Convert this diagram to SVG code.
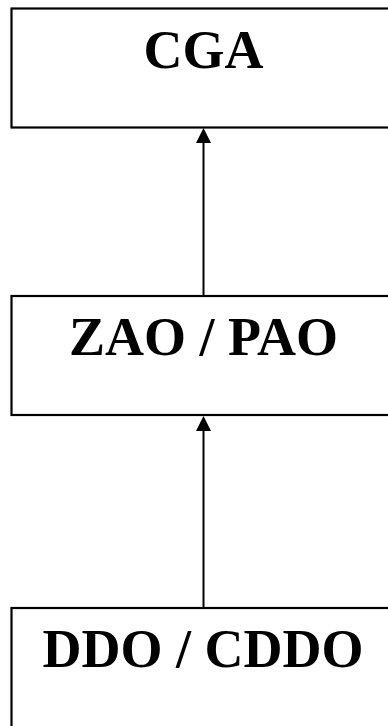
<svg xmlns="http://www.w3.org/2000/svg" width="388" height="726" viewBox="0 0 388 726">
<style>
.box{fill:#fff;stroke:#000;stroke-width:2.2}
.lbl{font-family:"Liberation Serif","Times New Roman",serif;font-weight:bold;font-size:54px;text-anchor:middle;fill:#000}
.conn{stroke:#000;stroke-width:2;fill:none}
.head{fill:#000}
</style>
<rect width="388" height="726" fill="#fff"/>
<g id="node-cga">
<rect class="box" x="11.5" y="8.5" width="400" height="119"/>
<text class="lbl" x="203.5" y="68">CGA</text>
</g>
<g id="node-zao">
<rect class="box" x="11.5" y="296" width="400" height="119"/>
<text class="lbl" x="203.5" y="355">ZAO / PAO</text>
</g>
<g id="node-ddo">
<rect class="box" x="11.5" y="608" width="400" height="140"/>
<text class="lbl" x="203" y="667">DDO / CDDO</text>
</g>
<g id="connectors">
<line class="conn" x1="203.5" y1="295" x2="203.5" y2="140"/>
<polygon class="head" points="203.5,128 196,143 211,143"/>
<line class="conn" x1="203.5" y1="607" x2="203.5" y2="428"/>
<polygon class="head" points="203.5,416 196,431 211,431"/>
</g>
</svg>
